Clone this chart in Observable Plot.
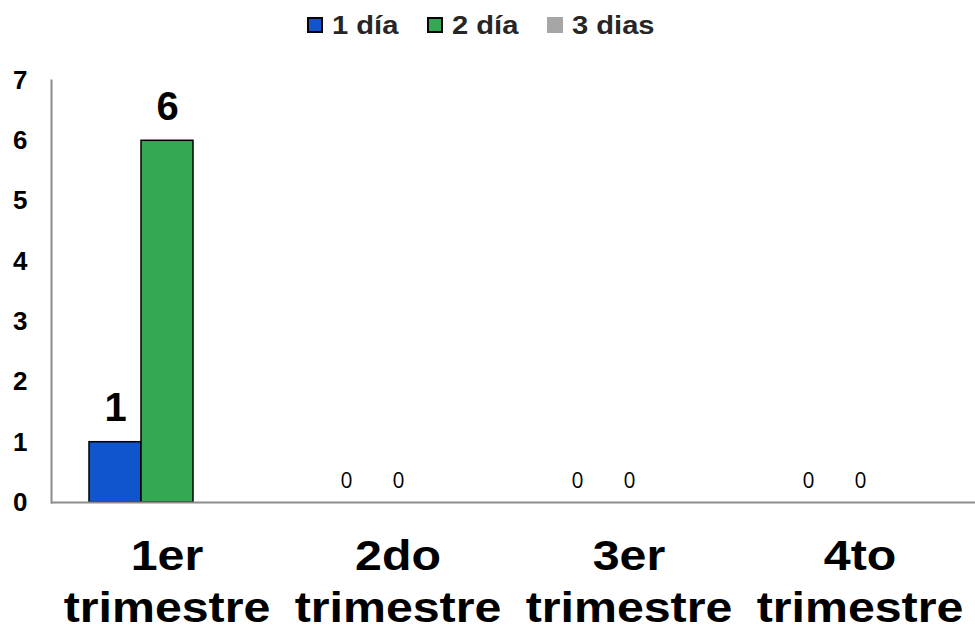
<!DOCTYPE html>
<html>
<head>
<meta charset="utf-8">
<script src="https://cdn.jsdelivr.net/npm/d3@7"></script>
<script src="https://cdn.jsdelivr.net/npm/@observablehq/plot@0.6"></script>
<style>
  body { margin: 0; background: #fff; font-family: "Liberation Sans", Arial, sans-serif; }
  #legend { height: 50px; display: flex; justify-content: center; align-items: center; padding-right: 14px; font-weight: bold; font-size: 26px; color: #262626; }
  #legend .item { display: flex; align-items: center; margin: 0 14px; }
  #legend .sw { width: 16px; height: 16px; box-sizing: border-box; margin-right: 9px; }
  #legend .lbl { display: inline-block; transform: scaleX(1.12); transform-origin: left center; margin-right: 8px; }
</style>
</head>
<body>
<div id="legend"></div>
<div id="chart"></div>
<script>
// Quarters, series and their values
const quarters = ["1er\ntrimestre", "2do\ntrimestre", "3er\ntrimestre", "4to\ntrimestre"];
const series = ["1 día", "2 día", "3 dias"];
const dia1 = [1, 0, 0, 0];
const dia2 = [6, 0, 0, 0];
const dias3 = [null, null, null, null];
const seriesColors = ["#1155cc", "#34a853", "#a6a6a6"];
const seriesBorders = ["#000", "#000", null];
const yTicks = [0, 1, 2, 3, 4, 5, 6, 7];

const valuesBySeries = [dia1, dia2, dias3];
const data = [];
quarters.forEach((q, i) => {
  series.forEach((s, j) => {
    data.push({quarter: q, series: s, value: valuesBySeries[j][i]});
  });
});

// Legend
const legend = d3.select("#legend");
series.forEach((s, j) => {
  const item = legend.append("div").attr("class", "item");
  item.append("div").attr("class", "sw")
    .style("background", seriesColors[j])
    .style("border", seriesBorders[j] ? `2px solid ${seriesBorders[j]}` : "none");
  item.append("span").attr("class", "lbl").text(s);
});

const chart = Plot.plot({
  width: 975,
  height: 581,
  marginTop: 30,
  marginBottom: 129,
  marginLeft: 51,
  marginRight: 0,
  style: {fontFamily: "'Liberation Sans', Arial, sans-serif", color: "#000", background: "#fff"},
  fx: {domain: quarters, padding: 0, label: null},
  x: {domain: series, paddingInner: 0, paddingOuter: 0.72, axis: null},
  y: {domain: [0, 7], label: null},
  color: {domain: series, range: seriesColors},
  marks: [
    Plot.frame({anchor: "left", facet: "super", stroke: "#8c8c8c", strokeWidth: 2}),
    Plot.axisY({ticks: yTicks, tickSize: 0, tickPadding: 24, fontSize: 26, fontWeight: "bold", label: null, tickFormat: d => String(d)}),
    Plot.axisFx({anchor: "bottom", tickSize: 0, tickPadding: 31, fontSize: 42, fontWeight: "bold", lineHeight: 1.23, label: null}),
    Plot.barY(data, {filter: d => d.value > 0, fx: "quarter", x: "series", y: "value", fill: "series", stroke: "#000", strokeWidth: 1.5}),
    Plot.ruleY([0], {stroke: "#8c8c8c", strokeWidth: 2}),
    Plot.text(data, {filter: d => d.value > 0, fx: "quarter", x: "series", y: "value", text: d => String(d.value), lineAnchor: "bottom", dy: -21, fontSize: 40, fontWeight: "bold", fill: "#000"}),
    Plot.text(data, {filter: d => d.value === 0, fx: "quarter", x: "series", y: "value", text: d => String(d.value), lineAnchor: "bottom", dy: -15, fontSize: 21, fontFamily: "'Open Sans', sans-serif", fill: "#000"})
  ]
});
document.getElementById("chart").appendChild(chart);

// Widen the quarter labels a little (wide bold face)
d3.select(chart).selectAll('g[aria-label="fx-axis tick label"] tspan, g[aria-label="fx-axis tick label"] text')
  .each(function() {
    if (this.tagName === "text" && this.querySelector("tspan")) return;
    const len = this.getComputedTextLength();
    this.setAttribute("textLength", len * 1.15);
    this.setAttribute("lengthAdjust", "spacingAndGlyphs");
  });
</script>
</body>
</html>
